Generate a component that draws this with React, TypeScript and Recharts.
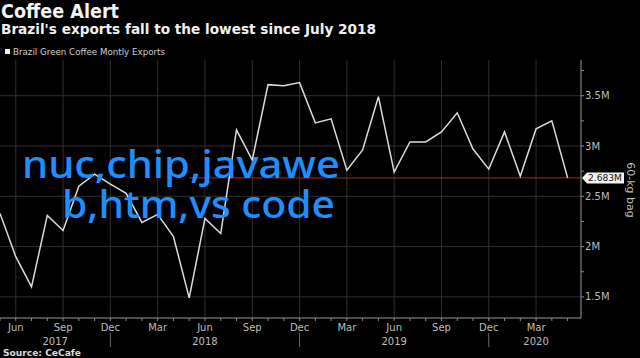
import React from 'react';
import { LineChart, Line, XAxis, YAxis, CartesianGrid, ReferenceLine } from 'recharts';

// Brazil green coffee monthly exports, million 60-kg bags, May 2017 .. May 2020
const exportsM = [
  2.33, 1.90, 1.60, 2.31, 2.16, 2.60, 2.72, 2.62,
  2.53, 2.24, 2.32, 2.10, 1.49, 2.28, 2.13, 3.16, 2.86, 3.61, 3.60, 3.63,
  3.23, 3.27, 2.76, 2.96, 3.49, 2.74, 3.04, 3.04, 3.14, 3.33, 2.97, 2.77,
  3.14, 2.70, 3.17, 3.25, 2.683,
];
const lastValue = 2.683;
const lowSince = 12; // month index where the red marker starts

const monthTicks = exportsM.map((_, i) => i);
const quarterTicks = [1, 4, 7, 10, 13, 16, 19, 22, 25, 28, 31, 34];
const quarterLabels = ['Jun', 'Sep', 'Dec', 'Mar', 'Jun', 'Sep', 'Dec', 'Mar', 'Jun', 'Sep', 'Dec', 'Mar'];
const yearTicks = [3.5, 13, 25, 34];
const yearLabels = ['2017', '2018', '2019', '2020'];
const yTicks = [1.5, 1.75, 2, 2.25, 2.5, 2.75, 3, 3.25, 3.5, 3.75];
const yMajor = [1.5, 2, 2.5, 3, 3.5];

const data = exportsM.map((v, i) => ({ m: i, v }));

const xMax = 36.85;
const plotWidth = 581;
const pxPerMonth = plotWidth / xMax;

const tickFont = '"DejaVu Sans", sans-serif';
const tickColor = '#bdbdbd';

const MonthTick = (props: any) => {
  const { x, y, payload } = props;
  const q = quarterTicks.indexOf(payload.value);
  const yi = yearTicks.findIndex(t => Math.floor(t) === payload.value);
  return (
    <g>
      <line x1={x} y1={y} x2={x} y2={y + 3} stroke="#8a8a8a" />
      {q >= 0 && (
        <text x={x} y={y + 13} textAnchor="middle" fontSize={10} fontFamily={tickFont} fill={tickColor}>
          {quarterLabels[q]}
        </text>
      )}
      {q >= 0 && quarterLabels[q] === 'Dec' && (
        <line x1={x} y1={y + 15} x2={x} y2={y + 29} stroke="#6a6a6a" />
      )}
      {yi >= 0 && (
        <text
          x={x + (yearTicks[yi] - payload.value) * pxPerMonth}
          y={y + 27}
          textAnchor="middle"
          fontSize={10}
          fontFamily={tickFont}
          fill={tickColor}
        >
          {yearLabels[yi]}
        </text>
      )}
    </g>
  );
};

const ValueTick = (props: any) => {
  const { x, y, payload } = props;
  const major = yMajor.includes(payload.value);
  return (
    <g>
      <line x1={x} y1={y} x2={x + 3} y2={y} stroke="#8a8a8a" />
      {major && (
        <text x={x + 4} y={y + 3.5} fontSize={10} fontFamily={tickFont} fill={tickColor}>
          {payload.value}M
        </text>
      )}
    </g>
  );
};

const PriceTag = (props: any) => {
  const vb = props.viewBox || {};
  const x = (vb.x || 0) + (vb.width || 0) + 1;
  const y = vb.y || 0;
  return (
    <g>
      <path d={`M${x} ${y} L${x + 5} ${y - 5.5} L${x + 42} ${y - 5.5} L${x + 42} ${y + 5.5} L${x + 5} ${y + 5.5} Z`} fill="#f2f2f2" />
      <text x={x + 6} y={y + 3.5} fontSize={9.5} fontFamily={tickFont} fill="#111" textLength={34} lengthAdjust="spacingAndGlyphs">
        {lastValue}M
      </text>
    </g>
  );
};

export default function App() {
  return (
    <div style={{ position: 'absolute', left: 0, top: 0, width: 640, height: 358, background: '#000', overflow: 'hidden' }}>
      <LineChart width={640} height={358} data={data} margin={{ top: 60, right: 9, bottom: 0, left: 0 }}>
        <CartesianGrid
          stroke="#2f2f2f"
          strokeWidth={1}
          verticalValues={quarterTicks}
          horizontalValues={yMajor}
        />
        <XAxis
          dataKey="m"
          type="number"
          domain={[0, xMax]}
          ticks={monthTicks}
          interval={0}
          height={40}
          tickSize={0}
          tickMargin={0}
          tickLine={false}
          axisLine={{ stroke: '#9a9a9a' }}
          tick={<MonthTick />}
          allowDataOverflow
        />
        <YAxis
          orientation="right"
          type="number"
          domain={[1.29, 3.855]}
          ticks={yTicks}
          interval={0}
          width={50}
          tickSize={0}
          tickMargin={0}
          tickLine={false}
          axisLine={{ stroke: '#9a9a9a' }}
          tick={<ValueTick />}
          allowDataOverflow
        />
        <ReferenceLine
          segment={[{ x: lowSince, y: lastValue }, { x: xMax, y: lastValue }]}
          stroke="#8e1c1c"
          strokeWidth={1.2}
          label={<PriceTag />}
        />
        <Line
          type="linear"
          dataKey="v"
          stroke="#dcdcdc"
          strokeWidth={1.5}
          dot={false}
          isAnimationActive={false}
        />
      </LineChart>
      <svg width={640} height={358} style={{ position: 'absolute', left: 0, top: 0, pointerEvents: 'none' }}>
        <text x={1} y={18} fontSize={19} fontWeight="bold" fontFamily={tickFont} fill="#f4f4f4" textLength={118} lengthAdjust="spacingAndGlyphs">
          Coffee Alert
        </text>
        <text x={1} y={34} fontSize={14} fontWeight="bold" fontFamily={tickFont} fill="#f0f0f0" textLength={375} lengthAdjust="spacingAndGlyphs">
          Brazil's exports fall to the lowest since July 2018
        </text>
        <rect x={5} y={49} width={5} height={5} fill="#f0f0f0" />
        <text x={13} y={55} fontSize={9} fontFamily={tickFont} fill="#cfcfcf" textLength={152} lengthAdjust="spacingAndGlyphs">
          Brazil Green Coffee Montly Exports
        </text>
        <text x={3} y={356} fontSize={9} fontWeight="bold" fontFamily={tickFont} fill="#dcdcdc" textLength={78} lengthAdjust="spacingAndGlyphs">
          Source: CeCafe
        </text>
        <text x={630} y={190} transform="rotate(90 630 190)" textAnchor="middle" dominantBaseline="middle" fontSize={11} fontFamily={tickFont} fill={tickColor}>
          60-kg bag
        </text>
        <text x={22} y={178} fontSize={38} fontWeight={500} fontFamily='"Noto Sans", sans-serif' fill="#1e8fff" textLength={318} lengthAdjust="spacingAndGlyphs">
          nuc,chip,javawe
        </text>
        <text x={62} y={218} fontSize={38} fontWeight={500} fontFamily='"Noto Sans", sans-serif' fill="#1e8fff" textLength={273} lengthAdjust="spacingAndGlyphs">
          b,htm,vs code
        </text>
      </svg>
    </div>
  );
}
